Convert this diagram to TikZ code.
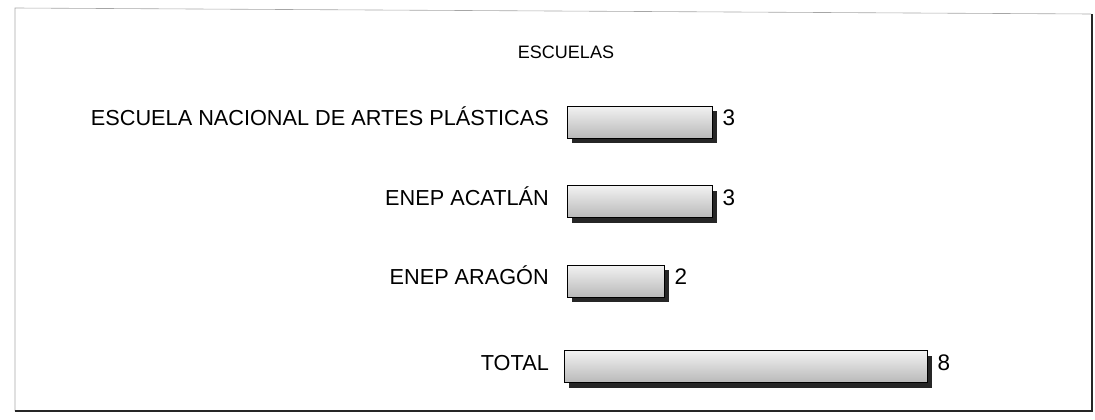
\documentclass[tikz,border=0pt]{standalone}
\usepackage{fontspec}
\setmainfont{Liberation Sans}
\usetikzlibrary{positioning, shadows}
\tikzstyle{school} = [anchor=east, inner sep=0pt, text height=0.716em, text depth=0pt, font=\fontsize{21.7}{25}\selectfont]
\tikzstyle{bar} = [rectangle, draw=black, thin, minimum height=32pt, inner sep=0pt, top color=gray!10, bottom color=gray!55, drop shadow={shadow xshift=5pt, shadow yshift=-5pt, fill=black!85, opacity=1}]
\tikzstyle{value} = [inner sep=0pt, text height=0.716em, text depth=0pt, font=\fontsize{22.5}{26}\selectfont]
\tikzstyle{frame} = [line width=0.6pt, draw=gray!70]

\begin{document}
\begin{tikzpicture}[x=1pt, y=-1pt, node distance=18pt]
    \useasboundingbox (0,0) rectangle (1095,420);

    % frame of the chart
    \draw [frame] (15,411) -- (15,8) -- (1091,14);
    \draw [line width=2.5pt, black!85] (15,411) -- (1092,411) -- (1092,14);

    \node (title) at (566,52) [font=\fontsize{18}{21}\selectfont] {ESCUELAS};

    \node (enap) at (549,122) [school] {ESCUELA NACIONAL DE ARTES PLÁSTICAS};
    \node (acatlan) at (549,201.5) [school] {ENEP ACATLÁN};
    \node (aragon) at (549,281) [school] {ENEP ARAGÓN};
    \node (total) at (549,366.5) [school] {TOTAL};

    \node (bar1) [bar, minimum width=145pt, right=18pt of enap] {};
    \node (bar2) [bar, minimum width=145pt, right=18pt of acatlan] {};
    \node (bar3) [bar, minimum width=97pt, right=18pt of aragon] {};
    \node (bar4) [bar, minimum width=363pt, right=15pt of total] {};

    \node (val1) [value, right=10pt of bar1] {3};
    \node (val2) [value, right=10pt of bar2] {3};
    \node (val3) [value, right=10pt of bar3] {2};
    \node (val4) [value, right=10pt of bar4] {8};
\end{tikzpicture}
\end{document}
